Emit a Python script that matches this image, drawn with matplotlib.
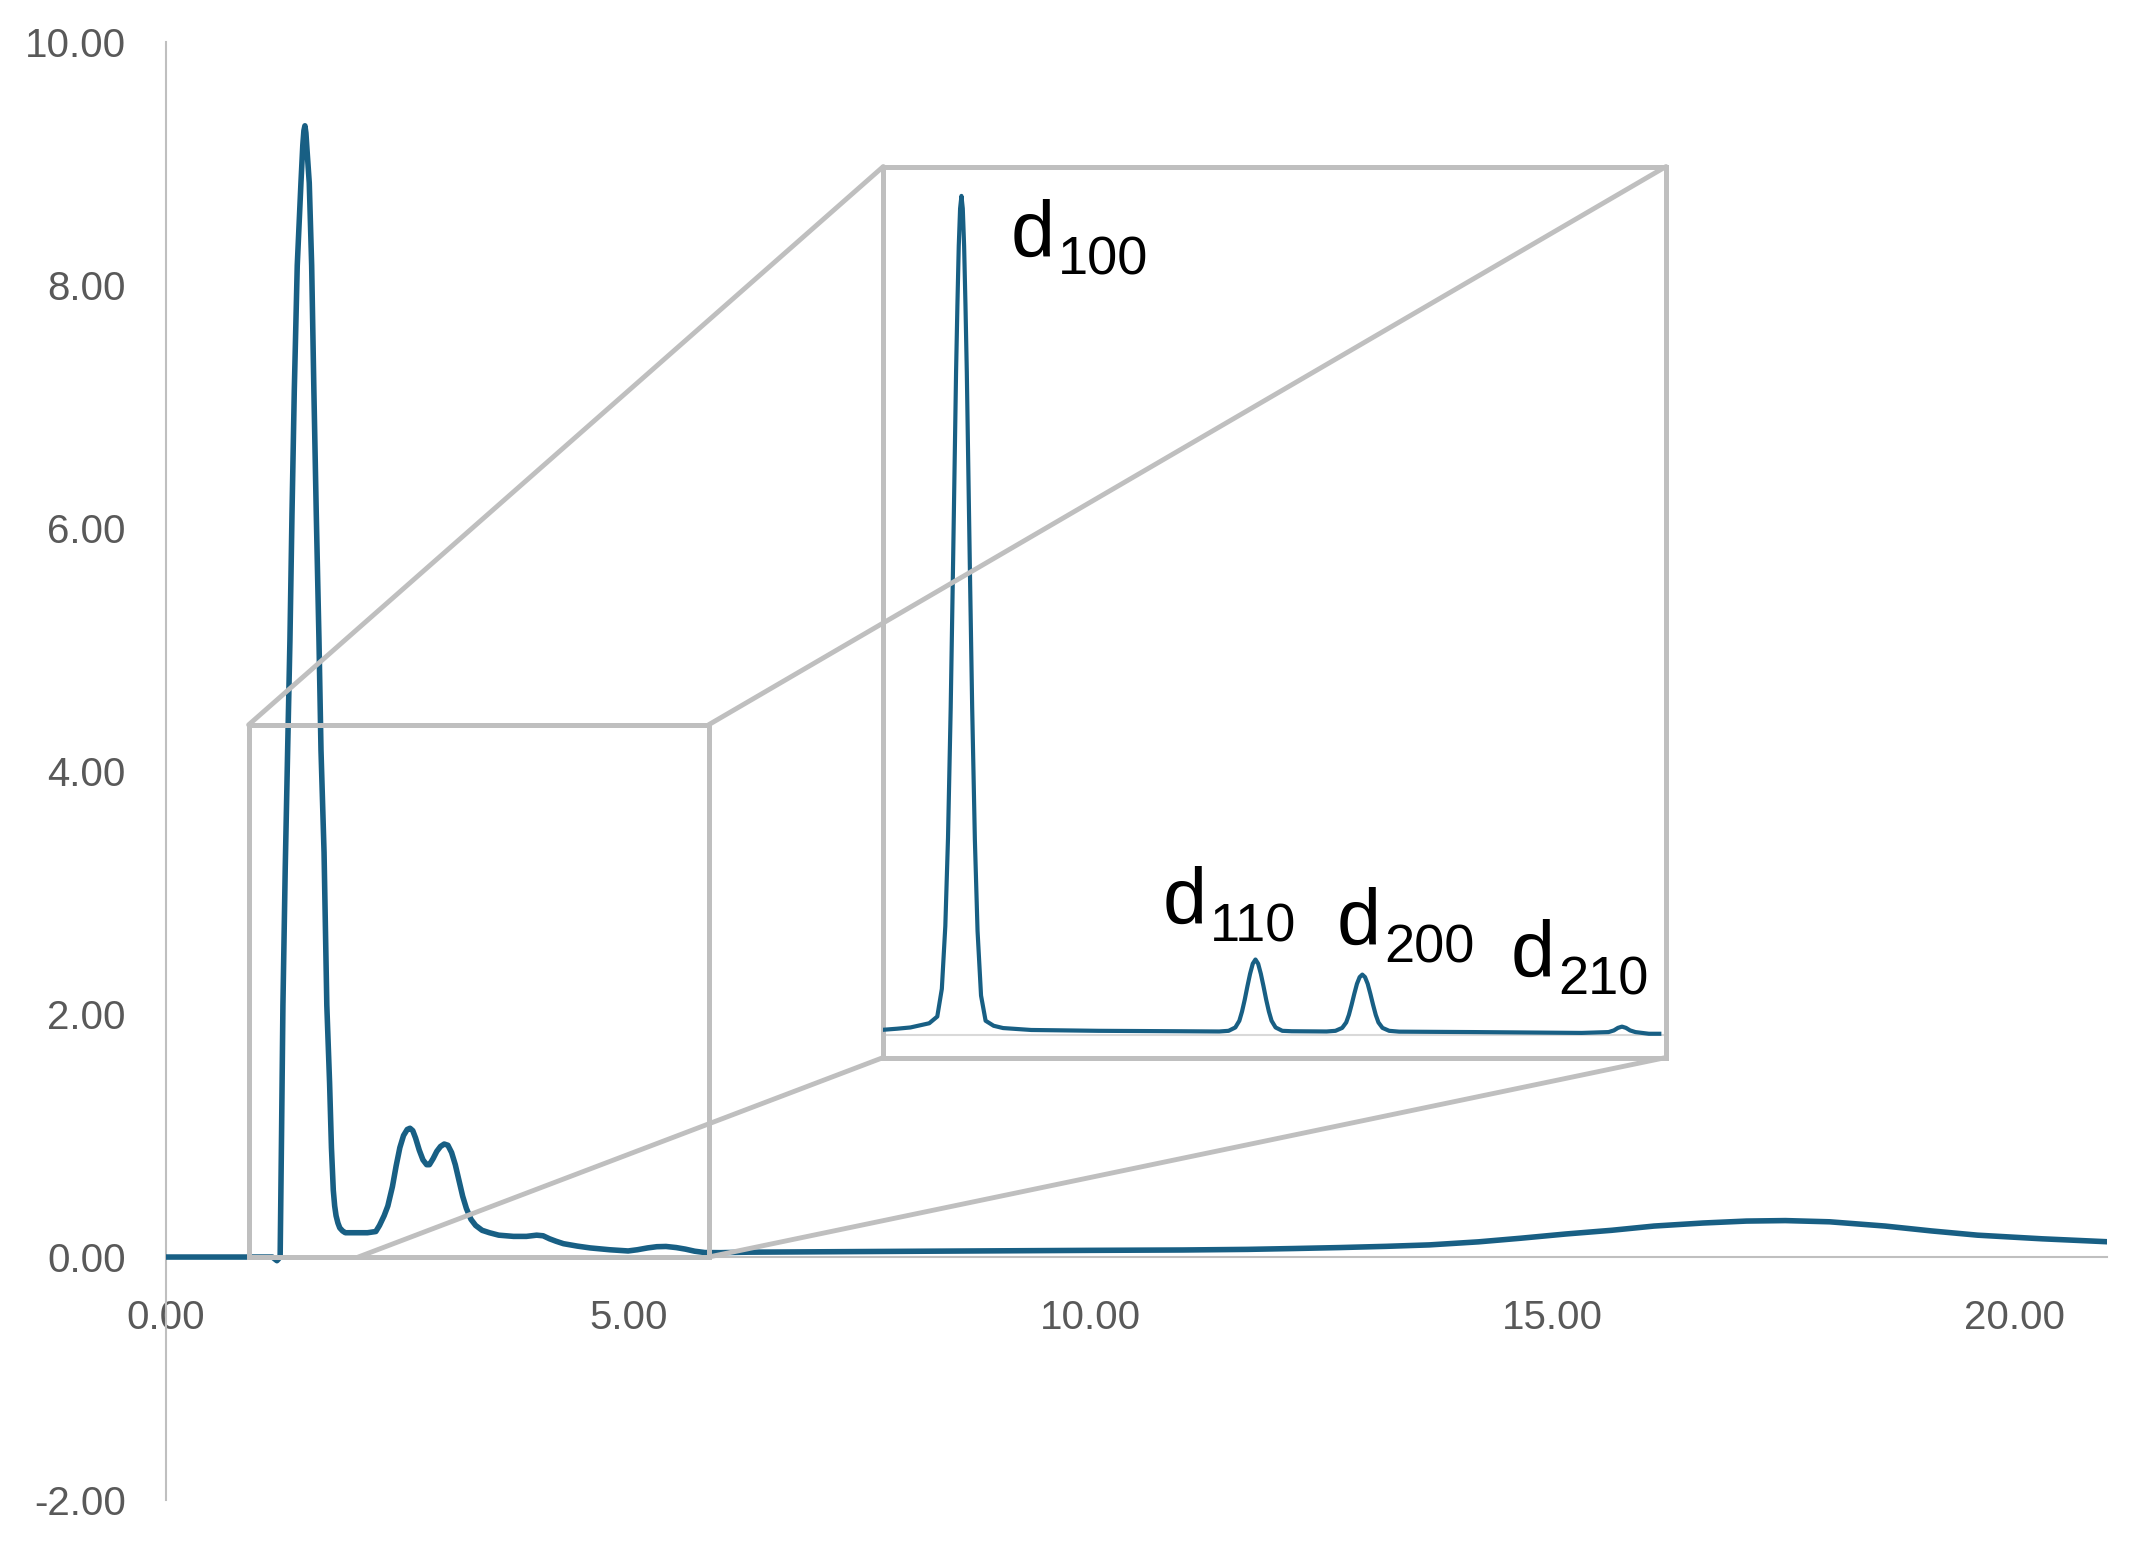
import matplotlib.pyplot as plt
from matplotlib.patches import Rectangle, ConnectionPatch
from matplotlib.ticker import FormatStrFormatter

plt.rcParams['font.family'] = ['Liberation Sans', 'DejaVu Sans']
plt.rcParams['axes.unicode_minus'] = False

# main scan
x_main = [0.0, 0.5, 1.0, 1.15, 1.20, 1.235, 1.25, 1.265, 1.29, 1.316, 1.341, 1.363, 1.388,
          1.42, 1.46, 1.48, 1.492, 1.503, 1.514, 1.525, 1.55, 1.576, 1.60, 1.626, 1.655,
          1.677, 1.71, 1.74, 1.77, 1.79, 1.81, 1.825, 1.84, 1.86, 1.88, 1.91, 1.94, 2.05,
          2.18, 2.27, 2.31, 2.36, 2.40, 2.45, 2.49, 2.53, 2.57, 2.61, 2.64, 2.67, 2.70,
          2.74, 2.78, 2.82, 2.85, 2.89, 2.93, 2.97, 3.01, 3.05, 3.09, 3.13, 3.17, 3.21,
          3.25, 3.30, 3.35, 3.42, 3.50, 3.60, 3.76, 3.90, 4.01, 4.08, 4.15, 4.22, 4.30,
          4.45, 4.59, 4.80, 5.00, 5.10, 5.21, 5.31, 5.41, 5.52, 5.62, 5.72, 5.83, 6.00,
          6.30, 7.50, 8.74, 10.0, 11.0, 11.7, 12.2, 12.7, 13.2, 13.67, 14.2, 14.66, 15.15,
          15.64, 16.1, 16.63, 17.1, 17.52, 18.0, 18.6, 19.1, 19.6, 20.3, 21.0]
y_main = [0.0, 0.0, 0.0, 0.0, -0.03, 0.0, 1.0, 2.07, 3.2, 4.17, 5.08, 6.11, 7.13,
          8.16, 8.84, 9.15, 9.27, 9.31, 9.25, 9.12, 8.84, 8.16, 7.13, 6.11, 5.08,
          4.17, 3.33, 2.07, 1.43, 0.9, 0.55, 0.42, 0.34, 0.28, 0.24, 0.215, 0.20, 0.20,
          0.20, 0.21, 0.26, 0.34, 0.42, 0.58, 0.75, 0.90, 1.00, 1.05, 1.06, 1.04, 0.98,
          0.88, 0.80, 0.76, 0.76, 0.81, 0.87, 0.91, 0.93, 0.92, 0.86, 0.76, 0.63, 0.50,
          0.40, 0.31, 0.26, 0.22, 0.20, 0.18, 0.17, 0.17, 0.18, 0.175, 0.15, 0.13, 0.11,
          0.09, 0.075, 0.06, 0.05, 0.06, 0.075, 0.085, 0.087, 0.078, 0.065, 0.048, 0.037, 0.036,
          0.04, 0.045, 0.05, 0.055, 0.058, 0.063, 0.07, 0.078, 0.088, 0.10, 0.125, 0.155, 0.19,
          0.22, 0.255, 0.28, 0.296, 0.30, 0.29, 0.255, 0.215, 0.18, 0.15, 0.126]

# inset: low-q reflections
q_inset = [1.205, 1.25, 1.30, 1.37, 1.40, 1.417, 1.43, 1.44, 1.45, 1.459, 1.47, 1.475,
           1.48, 1.485, 1.49, 1.495, 1.50, 1.505, 1.51, 1.521, 1.53, 1.54, 1.55, 1.563,
           1.58, 1.61, 1.645, 1.75, 2.0, 2.3, 2.45, 2.485, 2.51, 2.525, 2.535, 2.545, 2.555,
           2.565, 2.575, 2.585, 2.595, 2.605, 2.615, 2.625, 2.635, 2.645, 2.66, 2.685, 2.72,
           2.85, 2.883, 2.908, 2.923, 2.933, 2.943, 2.953, 2.963, 2.973, 2.983, 2.993, 3.003,
           3.013, 3.023, 3.033, 3.043, 3.058, 3.083, 3.12, 3.40, 3.80, 3.90, 3.92, 3.935,
           3.95, 3.965, 3.98, 4.0, 4.05, 4.089]
i_inset = [0.64, 0.75, 0.9, 1.4, 2.2, 5.5, 13.0, 23.5, 39.0, 56.5, 79.0, 87.0,
           94.0, 98.5, 100.0, 98.5, 94.0, 87.0, 79.0, 56.5, 39.0, 23.3, 12.4, 4.7,
           1.7, 1.1, 0.83, 0.6, 0.5, 0.45, 0.42, 0.5, 0.9, 1.7, 2.8, 4.2, 5.8,
           7.3, 8.5, 9.0, 8.5, 7.3, 5.8, 4.2, 2.8, 1.7, 0.9, 0.5, 0.45,
           0.42, 0.5, 0.85, 1.5, 2.4, 3.6, 4.9, 6.1, 6.9, 7.2, 6.9, 6.1,
           4.9, 3.6, 2.4, 1.5, 0.85, 0.5, 0.4, 0.35, 0.25, 0.35, 0.55, 0.85,
           1.0, 0.85, 0.55, 0.35, 0.15, 0.15]

peak_names = ['100', '110', '200', '210']
label_q = [1.674, 2.240, 2.888, 3.535]
label_i = [92.7, 13.2, 10.7, 6.9]

x_ticks = [0, 5, 10, 15, 20]
y_ticks = [-2, 0, 2, 4, 6, 8, 10]

zoom_x = (0.894, 5.87)
zoom_y = (0.0, 4.38)
zoom_foot = 2.08  # lower connector leaves the axis here

line_color = '#185f84'
gray = '#bfbfbf'

fig = plt.figure(figsize=(21.31, 15.42), dpi=100)
ax = fig.add_axes([0.0779, 0.0272, 0.9108, 0.9456])
ax.plot(x_main, y_main, color=line_color, lw=4.0, solid_joinstyle='round',
        solid_capstyle='round', zorder=3)
ax.set_xlim(0, 21)
ax.set_ylim(-2, 10)
ax.set_xticks(x_ticks)
ax.set_yticks(y_ticks)
ax.xaxis.set_major_formatter(FormatStrFormatter('%.2f'))
ax.yaxis.set_major_formatter(FormatStrFormatter('%.2f'))
for s in ['top', 'right']:
    ax.spines[s].set_visible(False)
ax.spines['bottom'].set_position(('data', 0))
for s in ['bottom', 'left']:
    ax.spines[s].set_color(gray)
    ax.spines[s].set_linewidth(1.5)
ax.tick_params(length=0, labelsize=29, labelcolor='#595959')
ax.tick_params(axis='x', pad=30)
ax.tick_params(axis='y', pad=29)

ax.add_patch(Rectangle((zoom_x[0], zoom_y[0]), zoom_x[1] - zoom_x[0], zoom_y[1] - zoom_y[0],
                       fill=False, ec=gray, lw=3.6, zorder=4))

axins = fig.add_axes([0.4145, 0.3142, 0.3673, 0.5778])
axins.plot(q_inset, i_inset, color=line_color, lw=3.0, solid_joinstyle='round', zorder=3)
axins.axhline(0, color='#d9d9d9', lw=1.5, zorder=2)
axins.set_xlim(1.199, 4.114)
axins.set_ylim(-2.68, 103.5)
axins.set_xticks([])
axins.set_yticks([])
for s in axins.spines.values():
    s.set_color(gray)
    s.set_linewidth(3.6)
for name, q, i in zip(peak_names, label_q, label_i):
    axins.text(q, i, 'd', fontsize=57, ha='left', va='baseline', color='black')
    axins.annotate(name, xy=(q, i), xytext=(34, -12.5), textcoords='offset points',
                   fontsize=39, ha='left', va='baseline', color='black')

links = [((zoom_x[0], zoom_y[1]), (0, 1)),
         ((zoom_x[1], zoom_y[1]), (1, 1)),
         ((zoom_x[1], zoom_y[0]), (1, 0)),
         ((zoom_foot, zoom_y[0]), (0, 0))]
for a, b in links:
    con = ConnectionPatch(xyA=a, coordsA=ax.transData, xyB=b, coordsB=axins.transAxes,
                          color=gray, lw=3.5, zorder=5)
    fig.add_artist(con)

fig.savefig('out.png', dpi=100)
